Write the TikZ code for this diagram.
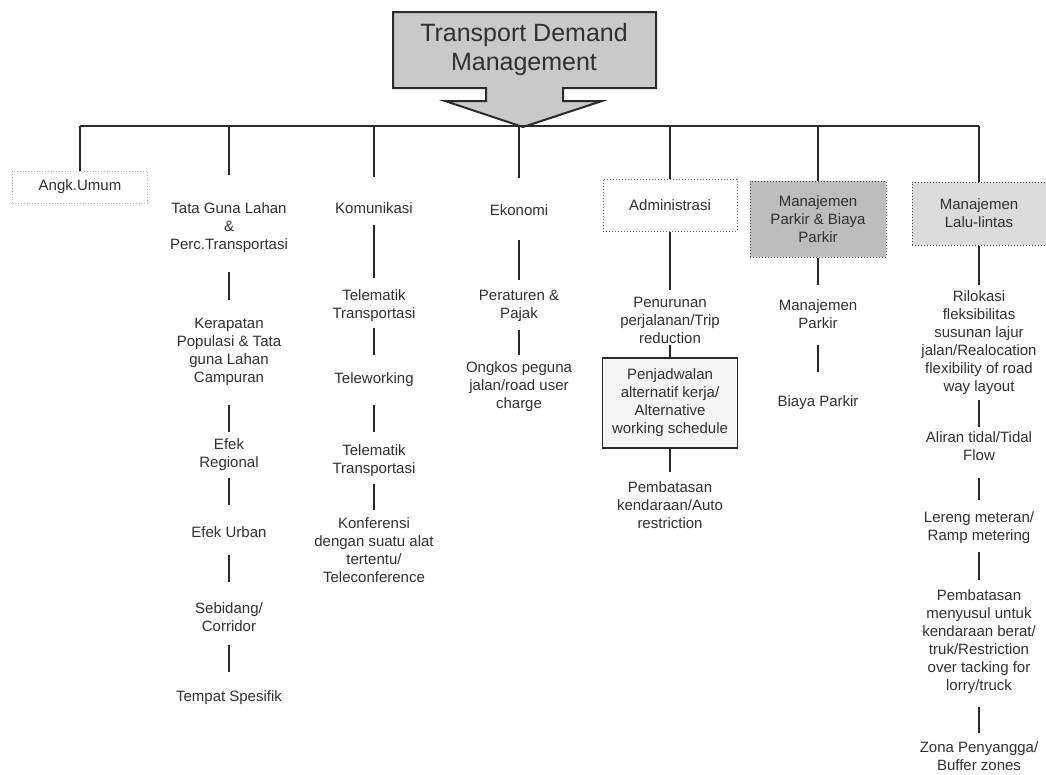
\documentclass[tikz,border=0pt]{standalone}
\usepackage{fontspec}
\setmainfont{Liberation Sans}
\begin{document}
\begin{tikzpicture}[x=1pt,y=-1pt]
\definecolor{ink}{HTML}{2A2A2A}
\definecolor{txtc}{HTML}{303030}
\tikzset{
  txt/.style={font=\fontsize{15}{18}\selectfont, align=center, inner sep=0pt, text=txtc},
  link/.style={draw=ink, line width=1.4pt},
  faintbox/.style={txt, draw=gray!60, dotted, line width=0.8pt, minimum width=135pt, minimum height=32pt},
  admbox/.style={txt, draw=gray!80!black, dotted, line width=1pt, minimum width=134pt, minimum height=52pt},
  parkbox/.style={txt, fill=gray!52, draw=gray!60!black, dotted, line width=1pt, minimum width=136pt, minimum height=76pt},
  llbox/.style={txt, fill=gray!28, draw=gray!60!black, dotted, line width=1pt, minimum width=134pt, minimum height=63pt},
  solidbox/.style={txt, fill=gray!8, draw=ink, line width=1.6pt, minimum width=135pt, minimum height=90pt},
}
\newcommand\lnk[4]{\draw[link, shorten <=#3pt, shorten >=#4pt] (#1) -- (#2);}
\newcommand\drop[2]{\draw[link, shorten >=#2pt] (#1.north |- bus) -- (#1.north);}
\useasboundingbox (0,0) rectangle (1046,774);

% title arrow
\fill[gray!42, draw=ink, line width=2pt, line join=miter]
  (393,12) -- (656,12) -- (656,88) -- (563,88) -- (563,101) -- (602,101) -- (523,127)
  -- (445,101) -- (486,101) -- (486,88) -- (393,88) -- cycle;
\node[font=\fontsize{25}{29}\selectfont, align=center, inner sep=0pt, text=txtc] (tdm) at (524,50) {Transport Demand\\Management};
\coordinate (bus) at (523,126);

% column A
\node[faintbox] (ang) at (80,187) {Angk.Umum};

% column B
\node[txt] (tgl) at (229,228) {Tata Guna Lahan\\\&\\Perc.Transportasi};
\node[txt] (kp) at (229,352) {Kerapatan\\Populasi \& Tata\\guna Lahan\\Campuran};
\node[txt] (er) at (229,455) {Efek\\Regional};
\node[txt] (eu) at (229,532) {Efek Urban};
\node[txt] (sc) at (229,617) {Sebidang/\\Corridor};
\node[txt] (ts) at (229,698) {Tempat Spesifik};

% column C
\node[txt] (kom) at (374,208) {Komunikasi};
\node[txt] (tt1) at (374,306) {Telematik\\Transportasi};
\node[txt] (tw) at (374,380) {Teleworking};
\node[txt] (tt2) at (374,461) {Telematik\\Transportasi};
\node[txt] (konf) at (374,550) {Konferensi\\dengan suatu alat\\tertentu/\\Teleconference};

% column D
\node[txt] (eko) at (519,210) {Ekonomi};
\node[txt] (pp) at (519,306) {Peraturen \&\\Pajak};
\node[txt] (ong) at (519,387) {Ongkos peguna\\jalan/road user\\charge};

% column E
\node[admbox] (adm) at (670,205) {Administrasi};
\node[txt] (pen) at (670,320) {Penurunan\\perjalanan/Trip\\reduction};
\node[solidbox] (pjw) at (670,403) {Penjadwalan\\alternatif kerja/\\Alternative\\working schedule};
\node[txt] (pa) at (670,505) {Pembatasan\\kendaraan/Auto\\restriction};

% column F
\node[parkbox] (pk) at (818,219) {Manajemen\\Parkir \& Biaya\\Parkir};
\node[txt] (mp) at (818,314) {Manajemen\\Parkir};
\node[txt] (bp) at (818,403) {Biaya Parkir};

% column G
\node[llbox] (ll) at (979,213.5) {Manajemen\\Lalu-lintas};
\node[txt] (ril) at (979,343) {Rilokasi\\fleksibilitas\\susunan lajur\\jalan/Realocation\\flexibility of road\\way layout};
\node[txt] (at) at (979,446) {Aliran tidal/Tidal\\Flow};
\node[txt] (lm) at (979,528) {Lereng meteran/\\Ramp metering};
\node[txt] (pm) at (979,642) {Pembatasan\\menyusul untuk\\kendaraan berat/\\truk/Restriction\\over tacking for\\lorry/truck};
\node[txt] (zb) at (979,756) {Zona Penyangga/\\Buffer zones};

% bus and drops
\draw[link] (ang.north |- bus) -- (ll.north |- bus);
\drop{ang}{0}
\drop{tgl}{28}
\drop{kom}{25.5}
\drop{eko}{26.5}
\drop{adm}{0}
\drop{pk}{0}
\drop{ll}{0}

% column connectors
\lnk{tgl}{kp}{19}{18}
\lnk{kp}{er}{19}{7}
\lnk{er}{eu}{7}{21.5}
\lnk{eu}{sc}{17.5}{20.5}
\lnk{sc}{ts}{13.5}{19}

\lnk{kom}{tt1}{11.5}{12}
\lnk{tt1}{tw}{6}{18}
\lnk{tw}{tt2}{18}{13}
\lnk{tt2}{konf}{7}{7.5}

\lnk{eko}{pp}{24.5}{10}
\lnk{pp}{ong}{8}{7}

\lnk{adm}{pen}{0}{6.5}
\lnk{pen}{pjw}{1.5}{0}
\lnk{pjw}{pa}{0}{9}

\lnk{pk}{mp}{0}{14.5}
\lnk{mp}{bp}{16.5}{24}

\lnk{ll}{ril}{0}{6}
\lnk{ril}{at}{5}{4.5}
\lnk{at}{lm}{17.5}{12}
\lnk{lm}{pm}{8}{10}
\lnk{pm}{zb}{13}{8.5}
\end{tikzpicture}
\end{document}
